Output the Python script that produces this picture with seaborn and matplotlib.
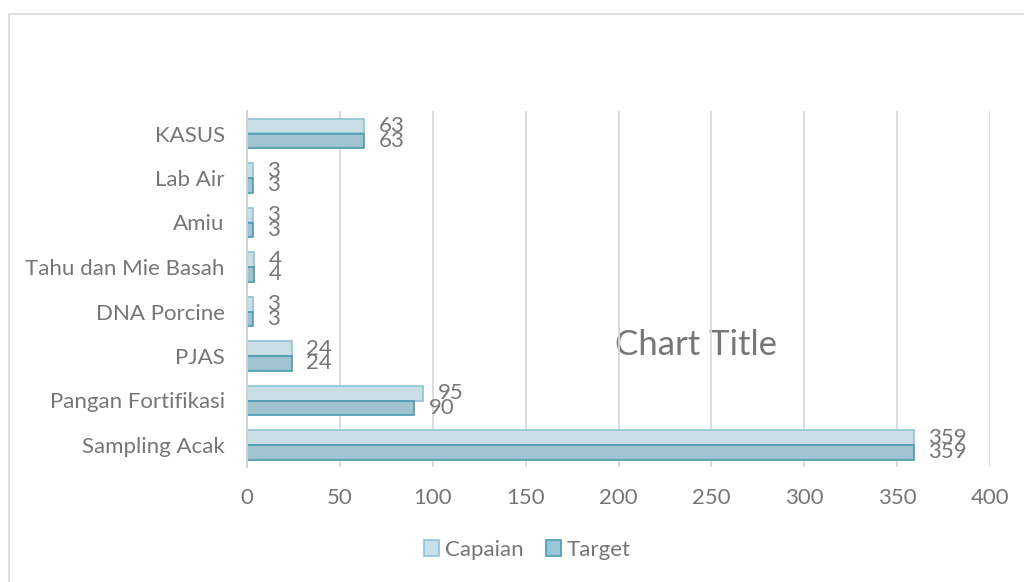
import matplotlib
matplotlib.use("Agg")
import matplotlib.pyplot as plt
from matplotlib.patches import Patch, Rectangle
import seaborn as sns
import pandas as pd

categories = ["KASUS", "Lab Air", "Amiu", "Tahu dan Mie Basah", "DNA Porcine",
              "PJAS", "Pangan Fortifikasi", "Sampling Acak"]
capaian = [63, 3, 3, 4, 3, 24, 95, 359]
target = [63, 3, 3, 4, 3, 24, 90, 359]
series = ["Capaian", "Target"]
xticks = [0, 50, 100, 150, 200, 250, 300, 350, 400]
title = "Chart Title"

fill_colors = {"Capaian": "#c5e0ea", "Target": "#99c7d7"}
edge_colors = {"Capaian": "#8ec4d6", "Target": "#4a9bb3"}
text_color = "#767676"

df = pd.DataFrame({
    "category": categories * 2,
    "value": capaian + target,
    "series": ["Capaian"] * len(categories) + ["Target"] * len(categories),
})

sns.set_theme(style="white")
plt.rcParams["font.family"] = ["Lato", "DejaVu Sans"]

fig = plt.figure(figsize=(10.24, 5.82), dpi=100)
ax = fig.add_axes([247 / 1024, 1 - 467.25 / 582, (990 - 247) / 1024, (467.25 - 111.25) / 582])

sns.barplot(data=df, y="category", x="value", hue="series", order=categories,
            hue_order=series, palette=fill_colors, orient="h", width=0.674,
            gap=0, ax=ax, legend=False, errorbar=None)

for cont, s in zip(ax.containers, series):
    for bar in cont:
        bar.set_edgecolor(edge_colors[s])
        bar.set_linewidth(1.2)
    ax.bar_label(cont, labels=[str(int(v)) for v in cont.datavalues], padding=10.5,
                 fontsize=16, color=text_color)

ax.set_xlim(0, 400)
ax.set_ylim(7.5, -0.5)
ax.set_xticks(xticks)
ax.set_xticklabels([str(t) for t in xticks])
ax.set_xlabel("")
ax.set_ylabel("")
ax.set_axisbelow(True)
ax.grid(axis="x", color="#d9d9d9", linewidth=1.3)
ax.grid(axis="y", visible=False)
for side in ["top", "right", "bottom"]:
    ax.spines[side].set_visible(False)
ax.spines["left"].set_color("#d0d0d0")
ax.spines["left"].set_linewidth(1.3)
ax.tick_params(axis="x", length=0, pad=15, labelsize=16, labelcolor=text_color)
ax.tick_params(axis="y", length=0, pad=16, labelsize=16, labelcolor=text_color)

ax.text(696 / 1024, 1 - 345 / 582, title, transform=fig.transFigure, ha="center",
        va="center", fontsize=25, color=text_color, zorder=0.2, clip_on=False)

handles = [Patch(facecolor=fill_colors[s], edgecolor=edge_colors[s], linewidth=1.2, label=s)
           for s in series]
fig.legend(handles=handles, loc="center", bbox_to_anchor=(0.515, 1 - 550 / 582),
           ncol=2, frameon=False, fontsize=16, labelcolor=text_color,
           handlelength=0.7, handleheight=0.7, handletextpad=0.25, columnspacing=1.0)

fig.patches.append(Rectangle((9 / 1024, -0.05), 1.2, 1 - 14 / 582 + 0.05,
                             transform=fig.transFigure, fill=False,
                             edgecolor="#d9d9d9", linewidth=1.2))

fig.savefig("out.png", dpi=100)
